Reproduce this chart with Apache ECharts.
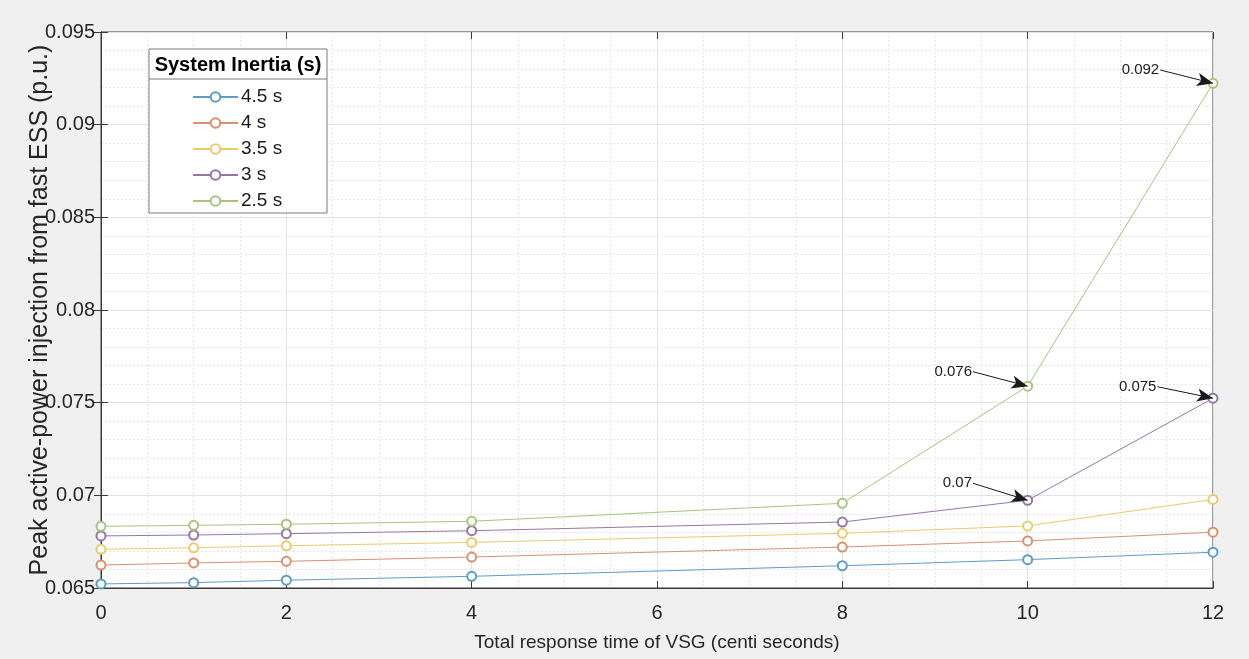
<!DOCTYPE html>
<html>
<head>
<meta charset="utf-8">
<script src="https://cdn.jsdelivr.net/npm/echarts@6/dist/echarts.min.js"></script>
<style>
html,body{margin:0;padding:0;background:#f0f0f0;}
#chart{width:1249px;height:659px;}
</style>
</head>
<body>
<div id="chart"></div>
<script>
const xValues = [0, 1, 2, 4, 8, 10, 12];
const seriesNames = ['4.5 s', '4 s', '3.5 s', '3 s', '2.5 s'];
const inertia45 = [0.06522, 0.06529, 0.06542, 0.06563, 0.0662, 0.06653, 0.06693];
const inertia40 = [0.06624, 0.06635, 0.06644, 0.06667, 0.06721, 0.06754, 0.06801];
const inertia35 = [0.06709, 0.06717, 0.06728, 0.06746, 0.06795, 0.06835, 0.06978];
const inertia30 = [0.06781, 0.06786, 0.06793, 0.06809, 0.06856, 0.06973, 0.07524];
const inertia25 = [0.06833, 0.06838, 0.06844, 0.0686, 0.06957, 0.07589, 0.09223];
const xTicks = [0, 2, 4, 6, 8, 10, 12];
const yTicks = [0.065, 0.07, 0.075, 0.08, 0.085, 0.09, 0.095];
// annotations: [series index, point index, label text, label anchor x, label anchor y]
const annotations = [
  [4, 6, '0.092', 11.43, 0.09295],
  [4, 5, '0.076', 9.41, 0.07667],
  [3, 6, '0.075', 11.40, 0.07586],
  [3, 5, '0.07', 9.41, 0.07065]
];

const colors = ['#5a9dc5', '#d8906f', '#eacb6c', '#9676a8', '#a8c47c'];
const allData = [inertia45, inertia40, inertia35, inertia30, inertia25];
const FONT = 'Liberation Sans, Arial, sans-serif';

const chart = echarts.init(document.getElementById('chart'));

const series = allData.map((vals, i) => {
  const s = {
    name: seriesNames[i],
    type: 'line',
    data: xValues.map((x, k) => [x, vals[k]]),
    symbol: 'emptyCircle',
    symbolSize: 9,
    showSymbol: true,
    lineStyle: { width: 1, color: colors[i] },
    itemStyle: { color: colors[i], borderWidth: 1 },
    emphasis: { disabled: true },
    z: 3
  };
  const ann = annotations.filter(a => a[0] === i);
  if (ann.length) {
    s.markLine = {
      silent: true,
      animation: false,
      symbol: ['none', 'arrow'],
      symbolSize: [10, 16],
      lineStyle: { color: '#1a1a1a', width: 1, type: 'solid' },
      data: ann.map(a => [
        { coord: [a[3], a[4]], label: { show: true, position: 'start', formatter: a[2], color: '#1a1a1a', fontSize: 15, fontFamily: FONT, distance: 1 } },
        { coord: [xValues[a[1]], allData[i][a[1]]] }
      ])
    };
  }
  return s;
});

const gridLeft = 101, gridTop = 32, gridRight = 36, gridBottom = 71;

chart.setOption({
  backgroundColor: '#f0f0f0',
  animation: false,
  textStyle: { fontFamily: FONT },
  grid: { left: gridLeft, top: gridTop, right: gridRight, bottom: gridBottom, show: true, backgroundColor: '#ffffff', borderColor: '#3a3a3a', borderWidth: 1 },
  legend: {
    data: seriesNames,
    orient: 'vertical',
    left: 192,
    top: 87,
    padding: 0,
    itemWidth: 45,
    itemHeight: 12,
    itemGap: 6,
    z: 12,
    textStyle: { fontSize: 19, lineHeight: 20, color: '#1a1a1a', fontFamily: FONT, padding: [0, 0, 0, -2] },
    selectedMode: false
  },
  graphic: [
    { type: 'rect', z: 10, shape: { x: 149, y: 49, width: 178, height: 164 }, style: { fill: '#ffffff', stroke: '#7a7a7a', lineWidth: 1 } },
    { type: 'line', z: 10, shape: { x1: 149, y1: 79, x2: 327, y2: 79 }, style: { stroke: '#7a7a7a', lineWidth: 1 } },
    { type: 'text', z: 11, x: 238, y: 65, style: { text: 'System Inertia (s)', fontSize: 20, fontWeight: 'bold', fontFamily: FONT, fill: '#000', align: 'center', verticalAlign: 'middle' } }
  ],
  xAxis: [{
    type: 'value',
    min: 0, max: 12, interval: 2,
    name: 'Total response time of VSG (centi seconds)',
    nameLocation: 'middle',
    nameMoveOverlap: false,
    nameGap: 55,
    nameTextStyle: { fontSize: 19, color: '#262626', fontFamily: FONT, verticalAlign: 'middle' },
    axisLine: { show: true, lineStyle: { color: '#3a3a3a' } },
    axisTick: { show: true, inside: true, length: 7, lineStyle: { color: '#3a3a3a' } },
    axisLabel: { fontSize: 20, color: '#262626', margin: 15, formatter: v => xTicks.includes(v) ? String(v) : '' },
    splitLine: { show: true, lineStyle: { color: '#e2e2e2', width: 1 } },
    minorTick: { show: false, splitNumber: 4 },
    minorSplitLine: { show: true, lineStyle: { color: '#e6e6e6', type: [2, 2], width: 1 } }
  }, {
    type: 'value', position: 'top', min: 0, max: 12, interval: 2,
    axisLine: { show: false },
    axisTick: { show: true, inside: true, length: 7, lineStyle: { color: '#3a3a3a' } },
    axisLabel: { show: false },
    splitLine: { show: false }
  }],
  yAxis: [{
    type: 'value',
    min: 0.065, max: 0.095, interval: 0.005,
    name: 'Peak active-power injection from fast ESS (p.u.)',
    nameLocation: 'middle',
    nameMoveOverlap: false,
    nameGap: 61,
    nameTextStyle: { fontSize: 25, color: '#262626', fontFamily: FONT, verticalAlign: 'middle' },
    axisLine: { show: true, lineStyle: { color: '#3a3a3a' } },
    axisTick: { show: true, inside: true, length: 7, lineStyle: { color: '#3a3a3a' } },
    axisLabel: { fontSize: 20, color: '#262626', margin: 6, formatter: v => { const r = Math.round(v * 1000) / 1000; return yTicks.some(t => Math.abs(t - r) < 1e-9) ? String(r) : ''; } },
    splitLine: { show: true, lineStyle: { color: '#e2e2e2', width: 1 } },
    minorTick: { show: false, splitNumber: 5 },
    minorSplitLine: { show: true, lineStyle: { color: '#e6e6e6', type: [2, 2], width: 1 } }
  }, {
    type: 'value', position: 'right', min: 0.065, max: 0.095, interval: 0.005,
    axisLine: { show: false },
    axisTick: { show: true, inside: true, length: 7, lineStyle: { color: '#3a3a3a' } },
    axisLabel: { show: false },
    splitLine: { show: false }
  }],
  series: series
});
</script>
</body>
</html>
